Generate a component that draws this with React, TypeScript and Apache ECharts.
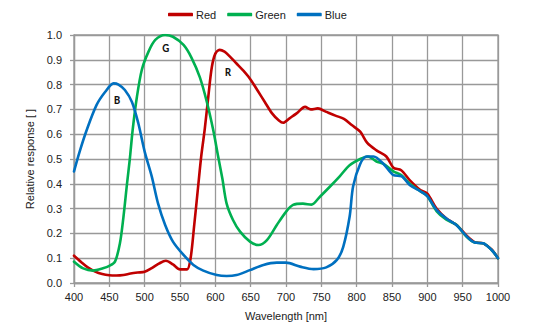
import React, { useEffect, useRef } from "react";
import * as echarts from "echarts";

const legendNames = ["Red", "Green", "Blue"];
const seriesColors = ["#C00000", "#00B050", "#0070C0"];

const redX = [400,410,420,430,440,450,460,470,480,490,500,510,520,530,540,550,560,565,570,575,580,585,590,595,600,606,613,620,630,640,650,660,670,680,690,696,705,715,727,735,745,757,770,782,793,805,815,828,842,852,863,875,890,900,913,927,941,956,967,979,991,1000];
const redY = [0.11,0.085,0.062,0.046,0.036,0.031,0.03,0.032,0.038,0.042,0.045,0.06,0.078,0.09,0.075,0.055,0.055,0.1,0.23,0.37,0.51,0.62,0.75,0.87,0.925,0.94,0.933,0.915,0.885,0.855,0.82,0.775,0.73,0.685,0.655,0.646,0.664,0.684,0.71,0.70,0.704,0.69,0.675,0.662,0.637,0.61,0.565,0.535,0.51,0.465,0.455,0.415,0.375,0.36,0.30,0.26,0.235,0.19,0.165,0.16,0.135,0.1];

const greenX = [400,413,427,441,450,458,465,470,475,479,483,489,496,505,515,529,540,555,566,578,588,597,604,610,616,625,635,649,661,673,687,700,710,724,736,748,762,776,790,805,816,828,838,852,863,875,890,900,913,927,941,956,967,979,991,1000];
const greenY = [0.086,0.059,0.05,0.059,0.069,0.086,0.16,0.267,0.40,0.5,0.617,0.75,0.86,0.93,0.98,1.0,0.993,0.96,0.91,0.83,0.73,0.617,0.51,0.42,0.32,0.254,0.207,0.167,0.153,0.173,0.234,0.287,0.315,0.32,0.316,0.348,0.388,0.43,0.475,0.5,0.51,0.49,0.48,0.45,0.435,0.40,0.37,0.35,0.29,0.255,0.235,0.185,0.163,0.16,0.133,0.1];

const blueX = [400,408,418,432,444,456,463,472,482,491,500,510,519,529,540,555,569,583,602,616,630,649,668,687,700,720,739,757,772,781,790,795,805,814,824,838,852,864,875,890,900,913,927,941,956,967,979,991,1000];
const blueY = [0.45,0.53,0.617,0.718,0.77,0.805,0.80,0.778,0.73,0.644,0.53,0.43,0.32,0.234,0.167,0.113,0.073,0.05,0.032,0.028,0.032,0.052,0.073,0.082,0.082,0.066,0.056,0.063,0.093,0.146,0.267,0.39,0.48,0.51,0.51,0.48,0.435,0.43,0.395,0.37,0.35,0.295,0.26,0.234,0.187,0.163,0.16,0.133,0.1];

const curveLabels = ["R", "G", "B"];
const curveLabelCoords = [[618, 0.85], [530, 0.947], [461, 0.734]];

const FONT = "'Liberation Sans', Arial, sans-serif";

export default function App() {
  const ref = useRef<HTMLDivElement>(null);
  useEffect(() => {
    if (!ref.current) return;
    const chart = echarts.init(ref.current, null, { renderer: "svg" });
    const xs = [redX, greenX, blueX];
    const ys = [redY, greenY, blueY];
    const series = legendNames.map((name, i) => ({
      name,
      type: "line",
      smooth: 0.3,
      symbol: "none",
      data: xs[i].map((x, j) => [x, ys[i][j]]),
      lineStyle: { color: seriesColors[i], width: 2.6, join: "round", cap: "round" },
      itemStyle: { color: seriesColors[i] },
      markPoint: {
        symbol: "circle",
        symbolSize: 0,
        silent: true,
        label: {
          show: true,
          formatter: curveLabels[i],
          color: "#111",
          fontWeight: "bold",
          fontSize: 11,
          fontFamily: "Calibri, Carlito, 'Liberation Sans', Arial, sans-serif",
          position: "inside",
        },
        data: [{ coord: curveLabelCoords[i] }],
      },
    }));
    chart.setOption({
      animation: false,
      textStyle: { fontFamily: FONT },
      legend: {
        data: legendNames.map((n, i) => ({ name: n, icon: "roundRect", itemStyle: { color: seriesColors[i] } })),
        left: 163,
        top: 4,
        itemWidth: 25,
        itemHeight: 3.5,
        itemGap: 11,
        textStyle: { fontSize: 11, color: "#222", fontFamily: FONT, padding: [0, 0, 0, -2] },
      },
      grid: {
        left: 74,
        right: 56,
        top: 35,
        bottom: 48,
        show: true,
        borderColor: "#999",
        borderWidth: 1.3,
      },
      xAxis: {
        type: "value",
        min: 400,
        max: 1000,
        interval: 50,
        name: "Wavelength [nm]",
        nameLocation: "middle",
        nameGap: 27,
        nameTextStyle: { fontSize: 11, color: "#222", fontFamily: FONT },
        axisLine: { show: true, lineStyle: { color: "#999", width: 1.3 } },
        axisTick: { show: true, length: 4, lineStyle: { color: "#999", width: 1.3 } },
        axisLabel: { fontSize: 11, color: "#222", margin: 8, fontFamily: FONT, formatter: (v: number) => String(v) },
        splitLine: { show: true, lineStyle: { color: "#999", width: 1.3 } },
      },
      yAxis: {
        type: "value",
        min: 0,
        max: 1,
        interval: 0.1,
        name: "Relative response [ ]",
        nameLocation: "middle",
        nameGap: 36,
        nameTextStyle: { fontSize: 11, color: "#222", fontFamily: FONT },
        axisLine: { show: true, lineStyle: { color: "#999", width: 1.3 } },
        axisTick: { show: true, length: 4, lineStyle: { color: "#999", width: 1.3 } },
        axisLabel: {
          fontSize: 11,
          color: "#222",
          margin: 12,
          fontFamily: FONT,
          formatter: (v: number) => v.toFixed(1),
        },
        splitLine: { show: true, lineStyle: { color: "#999", width: 1.3 } },
      },
      series,
    });
    return () => chart.dispose();
  }, []);
  return (
    <div
      ref={ref}
      style={{ position: "fixed", left: 0, top: 0, width: 554, height: 331, background: "#fff" }}
    />
  );
}
